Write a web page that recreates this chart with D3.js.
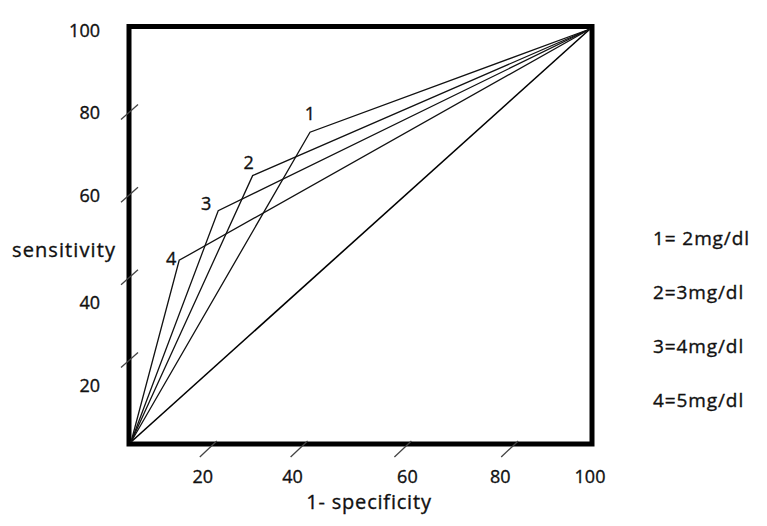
<!DOCTYPE html>
<html>
<head>
<meta charset="utf-8">
<script src="https://cdn.jsdelivr.net/npm/d3@7"></script>
<style>
  html, body { margin: 0; padding: 0; background: #fff; }
  svg text { font-family: "Open Sans", sans-serif; fill: #111; stroke: #111; stroke-width: 0.35px; }
</style>
</head>
<body>
<div id="chart"></div>
<script>
// ROC points, one per cut-off (1- specificity, sensitivity)
var cutoffs = ["1", "2", "3", "4"];
var fpr = [39, 26.5, 19, 10.5];
var tpr = [75, 64.5, 56, 44];
var legendLabels = ["1= 2mg/dl", "2=3mg/dl", "3=4mg/dl", "4=5mg/dl"];
var xTicks = [20, 40, 60, 80, 100];
var yTicks = [20, 40, 60, 80, 100];

var width = 767, height = 526;
var svg = d3.select("#chart").append("svg")
  .attr("width", width)
  .attr("height", height);

var x = d3.scaleLinear().domain([0, 100]).range([131, 590]);
var y = d3.scaleLinear().domain([0, 100]).range([442, 29]);

// frame
svg.append("rect")
  .attr("x", x(0) - 2)
  .attr("y", y(100) - 2.5)
  .attr("width", x(100) - x(0) + 4)
  .attr("height", y(0) - y(100) + 4.5)
  .attr("fill", "none")
  .attr("stroke", "#000")
  .attr("stroke-width", 5);

// chance diagonal
svg.append("line")
  .attr("x1", x(0)).attr("y1", y(0))
  .attr("x2", x(100)).attr("y2", y(100))
  .attr("stroke", "#000")
  .attr("stroke-width", 1.6);

// ROC curves: origin -> cut-off point -> (100,100)
var line = d3.line().x(d => x(d[0])).y(d => y(d[1]));
// the numbers sit at slightly different spots round each corner
var labelDx = [0, -4, -12, -8];
var labelDy = [-19, -13, -7, -2];
cutoffs.forEach((c, i) => {
  svg.append("path")
    .attr("d", line([[0, 0], [fpr[i], tpr[i]], [100, 100]]))
    .attr("fill", "none")
    .attr("stroke", "#111")
    .attr("stroke-width", 1.3);

  svg.append("text")
    .attr("x", x(fpr[i]) + labelDx[i])
    .attr("y", y(tpr[i]) + labelDy[i])
    .attr("dy", "0.35em")
    .attr("text-anchor", "middle")
    .attr("font-size", 18)
    .text(c);
});

// slash ticks (drawn by hand in the original, so not quite on the grid)
var yTickVals = yTicks.filter(v => v < 100);
svg.selectAll(".ytick").data(yTickVals).enter()
  .append("line")
  .attr("x1", x(0) - 10).attr("y1", d => y(d) + 8)
  .attr("x2", x(0) + 7).attr("y2", d => y(d) - 7)
  .attr("stroke", "#444")
  .attr("stroke-width", 1.3);

var xTickVals = xTicks.filter(v => v < 100);
var slashNudge = [-14, -15, -3, 12];
svg.selectAll(".xtick").data(xTickVals).enter()
  .append("line")
  .attr("x1", (d, i) => x(d) + slashNudge[i] - 9).attr("y1", y(0) + 15)
  .attr("x2", (d, i) => x(d) + slashNudge[i] + 8).attr("y2", y(0) - 1)
  .attr("stroke", "#444")
  .attr("stroke-width", 1.3);

// tick labels (hand placed in the original, lower ones sit a bit off)
var yNudge = [26, 26, 1, 1, 2];
svg.selectAll(".ylab").data(yTicks).enter()
  .append("text")
  .attr("x", 100)
  .attr("y", (d, i) => y(d) + yNudge[i])
  .attr("dy", "0.35em")
  .attr("text-anchor", "end")
  .attr("font-size", 18)
  .text(d => d);

var xNudge = [-20, -22, 1, 2, 0];
svg.selectAll(".xlab").data(xTicks).enter()
  .append("text")
  .attr("x", (d, i) => x(d) + xNudge[i])
  .attr("y", 477)
  .attr("dy", "0.35em")
  .attr("text-anchor", "middle")
  .attr("font-size", 18)
  .text(d => d);

// axis titles
svg.append("text")
  .attr("x", 12).attr("y", 250)
  .attr("dy", "0.35em")
  .attr("font-size", 20)
  .attr("letter-spacing", 1.1)
  .text("sensitivity");

svg.append("text")
  .attr("x", 369).attr("y", 502)
  .attr("dy", "0.35em")
  .attr("text-anchor", "middle")
  .attr("font-size", 20)
  .attr("letter-spacing", 0.8)
  .text("1- specificity");

// legend
svg.selectAll(".legend").data(legendLabels).enter()
  .append("text")
  .attr("x", 653)
  .attr("y", (d, i) => 238 + i * 54)
  .attr("dy", "0.35em")
  .attr("font-size", 19)
  .attr("letter-spacing", 0.9)
  .text(d => d);
</script>
</body>
</html>
